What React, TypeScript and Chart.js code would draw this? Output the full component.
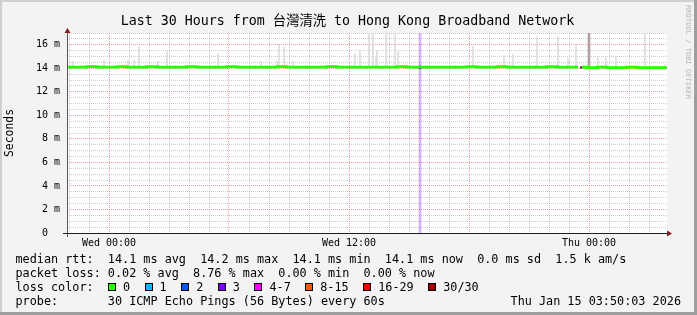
import React, { useEffect, useRef } from 'react';
import { Chart, registerables } from 'chart.js';
Chart.register(...registerables);

// Time axis: hours relative to Wed 00:00 (graph spans Tue 21:54 -> Thu 03:54)
const X_MIN = -2.1;
const X_MAX = 27.9;
const Y_MIN = 0;
const Y_MAX = 17;

const xGridHours = [-2, -1, 0, 1, 2, 3, 4, 5, 6, 7, 8, 9, 10, 11, 12, 13, 14, 15, 16, 17, 18, 19, 20, 21, 22, 23, 24, 25, 26, 27];
const xLabelHours = [0, 12, 24];
const xLabelTexts = ['Wed 00:00', 'Wed 12:00', 'Thu 00:00'];

const yGridValues = [0, 0.5, 1, 1.5, 2, 2.5, 3, 3.5, 4, 4.5, 5, 5.5, 6, 6.5, 7, 7.5, 8, 8.5, 9, 9.5, 10, 10.5, 11, 11.5, 12, 12.5, 13, 13.5, 14, 14.5, 15, 15.5, 16, 16.5, 17];
const yLabelValues = [0, 2, 4, 6, 8, 10, 12, 14, 16];
const yLabelTexts = ['0  ', '2 m', '4 m', '6 m', '8 m', '10 m', '12 m', '14 m', '16 m'];

// median RTT (ms), loss 0 colour
const medianTimes = [-2.1, -1.6, -1.1, -0.6, -0.1, 0.4, 0.9, 1.4, 1.9, 2.4, 2.9, 3.4, 3.9, 4.4, 4.9, 5.4, 5.9, 6.4, 6.9, 7.4, 7.9, 8.4, 8.9, 9.4, 9.9, 10.4, 10.9, 11.4, 11.9, 12.4, 12.9, 13.4, 13.9, 14.4, 14.9, 15.4, 15.9, 16.4, 16.9, 17.4, 17.9, 18.4, 18.9, 19.4, 19.9, 20.4, 20.9, 21.4, 21.9, 22.4, 22.9, 23.4, 23.45, 23.5, 23.65, 23.9, 24.4, 24.9, 25.4, 25.9, 26.4, 26.9, 27.4, 27.9];
const medianValues = [14.1, 14.1, 14.15, 14.1, 14.1, 14.15, 14.1, 14.1, 14.15, 14.1, 14.1, 14.1, 14.15, 14.1, 14.1, 14.1, 14.15, 14.1, 14.1, 14.1, 14.1, 14.15, 14.1, 14.1, 14.1, 14.1, 14.15, 14.1, 14.1, 14.1, 14.1, 14.1, 14.1, 14.15, 14.1, 14.1, 14.1, 14.1, 14.1, 14.1, 14.15, 14.1, 14.1, 14.15, 14.1, 14.1, 14.1, 14.1, 14.15, 14.1, 14.1, 14.1, 14.1, null, 14.1, 14.05, 14.1, 14.05, 14.05, 14.1, 14.05, 14.05, 14.05, 14.05];

// smoke (ping spread) spikes: time (h) and highest ping (ms)
const smokeTimes = [-1.8, -0.25, 0.95, 1.25, 1.5, 2.45, 2.9, 5.45, 7.6, 8.4, 8.5, 8.75, 9.2, 12.3, 12.55, 13.0, 13.2, 13.35, 13.4, 13.85, 14.3, 14.45, 18.2, 19.75, 20.2, 21.4, 22.45, 22.95, 23.35, 24.45, 24.85, 25.35, 26.8];
const smokeTops = [14.6, 14.7, 14.7, 14.7, 15.8, 14.6, 15.4, 15.2, 14.6, 14.6, 16.0, 15.8, 14.6, 15.2, 15.5, 17.0, 16.9, 14.9, 15.5, 17.0, 17.0, 15.4, 15.9, 15.1, 15.2, 16.7, 16.7, 14.8, 16.1, 14.9, 14.9, 15.0, 17.0];
const smokeBase = 14.1;
const tallSmokeTimes = [24.0];
const tallSmokeTops = [17.0];

// loss events
const loss3Times = [15.55];
const loss30Times = [23.6];

const lossLabels = ['0', '1', '2', '3', '4-7', '8-15', '16-29', '30/30'];
const lossColors = ['#26ff00', '#00b8ff', '#0059ff', '#7e00ff', '#ff00ff', '#ff5500', '#ff0000', '#a10000'];

const legendLines = [
  'median rtt:  14.1 ms avg  14.2 ms max  14.1 ms min  14.1 ms now  0.0 ms sd  1.5 k am/s',
  'packet loss: 0.02 % avg  8.76 % max  0.00 % min  0.00 % now',
  'loss color:',
  'probe:       30 ICMP Echo Pings (56 Bytes) every 60s',
];
const stampText = 'Thu Jan 15 03:50:03 2026';
const titleText = 'Last 30 Hours from 台灣清洗 to Hong Kong Broadband Network';

const MONO = '"DejaVu Sans Mono", "Noto Sans CJK TC", monospace';
const GRID = 'rgba(143,143,143,0.45)';
const MGRID = 'rgba(222,79,79,0.55)';

const framePlugin = {
  id: 'rrdframe',
  beforeDraw(chart: any) {
    const { ctx, width, height, chartArea: a } = chart;
    ctx.save();
    ctx.fillStyle = '#f3f3f3';
    ctx.fillRect(0, 0, width, height);
    ctx.fillStyle = '#ffffff';
    ctx.fillRect(a.left, a.top, a.right - a.left, a.bottom - a.top);
    // shaded border
    ctx.fillStyle = '#cfcfcf';
    ctx.fillRect(0, 0, width, 2);
    ctx.fillRect(0, 0, 2, height);
    ctx.fillStyle = '#9e9e9e';
    ctx.fillRect(width - 3, 0, 3, height);
    ctx.fillRect(0, height - 3, width, 3);
    ctx.restore();
  },
  afterDraw(chart: any) {
    const { ctx, width, chartArea: a } = chart;
    ctx.save();
    // axes
    ctx.lineWidth = 1;
    ctx.strokeStyle = '#555555';
    ctx.beginPath();
    ctx.moveTo(a.left + 0.5, a.bottom + 4);
    ctx.lineTo(a.left + 0.5, a.top - 2);
    ctx.stroke();
    ctx.strokeStyle = '#1f1f1f';
    ctx.beginPath();
    ctx.moveTo(a.left - 4, a.bottom + 0.5);
    ctx.lineTo(a.right + 2, a.bottom + 0.5);
    ctx.stroke();
    // arrows
    ctx.fillStyle = '#801f1f';
    ctx.beginPath();
    ctx.moveTo(a.left + 0.5 - 3, a.top);
    ctx.lineTo(a.left + 0.5 + 3, a.top);
    ctx.lineTo(a.left + 0.5, a.top - 5);
    ctx.closePath();
    ctx.fill();
    ctx.beginPath();
    ctx.moveTo(a.right, a.bottom + 0.5 - 3);
    ctx.lineTo(a.right, a.bottom + 0.5 + 3);
    ctx.lineTo(a.right + 5, a.bottom + 0.5);
    ctx.closePath();
    ctx.fill();
    // title
    ctx.fillStyle = '#000000';
    ctx.font = '13.3px ' + MONO;
    ctx.textAlign = 'center';
    ctx.textBaseline = 'alphabetic';
    ctx.fillText(titleText, width / 2 - 1, 25);
    // vertical unit label
    ctx.save();
    ctx.translate(10, (a.top + a.bottom) / 2);
    ctx.rotate(-Math.PI / 2);
    ctx.font = '11.4px ' + MONO;
    ctx.textAlign = 'center';
    ctx.textBaseline = 'middle';
    ctx.fillText('Seconds', 0, 0);
    ctx.restore();
    // watermark
    ctx.save();
    ctx.translate(688, 5);
    ctx.rotate(Math.PI / 2);
    ctx.font = '7.1px ' + MONO;
    ctx.fillStyle = '#b8b8b8';
    ctx.textAlign = 'left';
    ctx.textBaseline = 'middle';
    ctx.fillText('RRDTOOL / TOBI OETIKER', 0, 0);
    ctx.restore();
    ctx.restore();
  },
};

export default function App() {
  const ref = useRef<HTMLCanvasElement>(null);
  useEffect(() => {
    const canvas = ref.current;
    if (!canvas) return;
    const median = medianTimes.map((t, i) => ({ x: t, y: medianValues[i] }));
    const smoke = smokeTimes.map((t, i) => ({ x: t, y: [smokeBase, smokeTops[i]] }));
    const tallSmoke = tallSmokeTimes.map((t, i) => ({ x: t, y: [smokeBase, tallSmokeTops[i]] }));
    const lossBg = loss3Times.map((t) => ({ x: t, y: [Y_MIN, Y_MAX] }));
    const loss3 = loss3Times.map((t) => ({ x: t, y: [13.95, 14.2] }));
    const loss30 = loss30Times.map((t) => ({ x: t, y: [14.0, 14.15] }));
    const chart = new Chart(canvas, {
      type: 'line',
      data: {
        datasets: [
          {
            type: 'line', label: 'median rtt', data: median as any, borderColor: '#26ff00',
            borderWidth: 2.8, pointRadius: 0, stepped: true, spanGaps: false, order: 0, fill: false,
          },
          {
            type: 'bar', label: 'loss 3', data: loss3 as any, backgroundColor: '#7e00ff',
            barThickness: 2, grouped: false, order: 0, borderWidth: 0,
          } as any,
          {
            type: 'bar', label: 'loss 30/30', data: loss30 as any, backgroundColor: '#3a0a0a',
            barThickness: 1, grouped: false, order: 0, borderWidth: 0,
          } as any,
          {
            type: 'bar', label: 'smoke', data: smoke as any, backgroundColor: '#dcdcdc',
            barThickness: 1, grouped: false, order: 2, borderWidth: 0,
          } as any,
          {
            type: 'bar', label: 'smoke tall', data: tallSmoke as any, backgroundColor: '#b4a0a0',
            barThickness: 2, grouped: false, order: 2, borderWidth: 0,
          } as any,
          {
            type: 'bar', label: 'loss background', data: lossBg as any, backgroundColor: 'rgba(126,0,255,0.3)',
            barThickness: 2, grouped: false, order: 3, borderWidth: 0,
          } as any,
        ],
      },
      options: {
        animation: false,
        responsive: false,
        devicePixelRatio: 1,
        layout: { padding: { left: 0, top: 33, right: 30, bottom: 0 } },
        plugins: { legend: { display: false }, tooltip: { enabled: false }, title: { display: false } },
        scales: {
          x: {
            type: 'linear', min: X_MIN, max: X_MAX, offset: false,
            afterBuildTicks: (s: any) => { s.ticks = xGridHours.map((v) => ({ value: v })); },
            afterFit: (s: any) => { s.height = 82; },
            grid: {
              offset: false, drawTicks: false, lineWidth: 1,
              color: (c: any) => (c.tick && c.tick.value % 6 === 0 ? MGRID : GRID),
            },
            border: { display: false, dash: [1, 1] },
            ticks: {
              autoSkip: false, maxRotation: 0, minRotation: 0, padding: 4, color: '#000',
              font: { family: MONO, size: 10 },
              callback: (v: any) => { const i = xLabelHours.indexOf(Number(v)); return i >= 0 ? xLabelTexts[i] : ''; },
            },
          },
          y: {
            type: 'linear', min: Y_MIN, max: Y_MAX,
            afterBuildTicks: (s: any) => { s.ticks = yGridValues.map((v) => ({ value: v })); },
            afterFit: (s: any) => { s.width = 67; },
            grid: {
              drawTicks: false, lineWidth: 1,
              color: (c: any) => (c.tick && c.tick.value % 2 === 0 ? MGRID : GRID),
            },
            border: { display: false, dash: [1, 1] },
            ticks: {
              autoSkip: false, padding: 7, color: '#000',
              font: { family: MONO, size: 10 },
              callback: (v: any) => { const i = yLabelValues.indexOf(Number(v)); return i >= 0 ? yLabelTexts[i] : ''; },
            },
          },
        },
      } as any,
      plugins: [framePlugin],
    });
    return () => chart.destroy();
  }, []);

  const textStyle: React.CSSProperties = {
    position: 'absolute', left: 15.5, fontFamily: MONO, fontSize: 11.8, lineHeight: '14px',
    whiteSpace: 'pre', color: '#000', margin: 0,
  };
  return (
    <div style={{ position: 'fixed', left: 0, top: 0, width: 697, height: 315, overflow: 'hidden' }}>
      <canvas ref={ref} width={697} height={315} style={{ display: 'block', width: 697, height: 315 }} />
      {legendLines.map((line, i) => (
        <div key={i} style={{ ...textStyle, top: 252 + i * 14 }}>{line}</div>
      ))}
      <div style={{ ...textStyle, top: 280, left: 108, display: 'flex', alignItems: 'baseline' }}>
        {lossLabels.map((lab, i) => (
          <span key={lab} style={{ display: 'inline-flex', alignItems: 'baseline', marginRight: 14.5 }}>
            <span style={{
              display: 'inline-block', width: 8, height: 8, boxSizing: 'border-box', border: '1px solid #000',
              background: lossColors[i], marginRight: 7,
            }} />
            <span>{lab}</span>
          </span>
        ))}
      </div>
      <div style={{ ...textStyle, top: 294, left: undefined, right: 16 }}>{stampText}</div>
    </div>
  );
}
